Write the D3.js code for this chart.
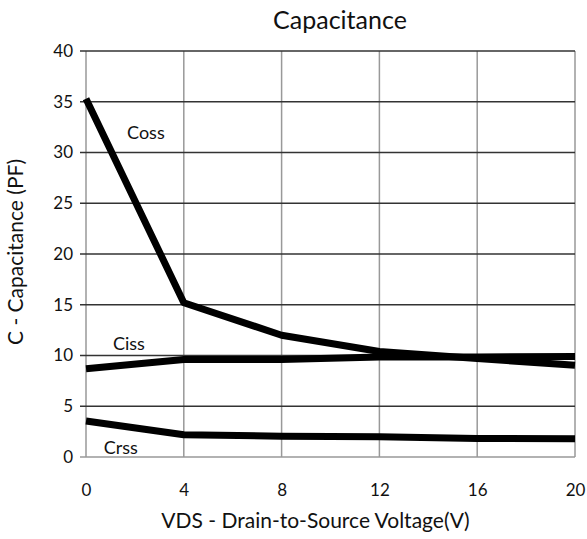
<!DOCTYPE html>
<html>
<head>
<meta charset="utf-8">
<script src="https://cdn.jsdelivr.net/npm/d3@7/dist/d3.min.js"></script>
<style>
	html, body { margin: 0; padding: 0; background: #fff; }
	#chart { width: 587px; height: 539px; }
	text { font-family: Lato, "Open Sans", sans-serif; fill: #111; }
</style>
</head>
<body>
<div id="chart"></div>
<script>
// values
const voltages = [0, 4, 8, 12, 16, 20];
const cossValues = [35.3, 15.2, 12.0, 10.4, 9.7, 9.05];
const cissValues = [8.7, 9.6, 9.6, 9.85, 9.85, 9.9];
const crssValues = [3.55, 2.2, 2.05, 2.0, 1.83, 1.8];

const xTicks = [0, 4, 8, 12, 16, 20];
const yTicks = [0, 5, 10, 15, 20, 25, 30, 35, 40];

function drawChart(container){
	const 	width = 587,
			height = 539,
			margin = {top: 51, right: 12, bottom: 82, left: 86},
			innerWidth = width - margin.left - margin.right,
			innerHeight = height - margin.top - margin.bottom;

	const svg = d3.select(container)
		.append('svg')
			.attr('width', width)
			.attr('height', height);

	const plot = svg.append('g')
		.attr('transform', `translate(${margin.left}, ${margin.top})`);

	const x = d3.scaleLinear()
		.domain([0, 20])
		.range([0, innerWidth]);

	const y = d3.scaleLinear()
		.domain([0, 40])
		.range([innerHeight, 0]);

	// vertical grid, light grey
	plot.append('g')
		.selectAll('line')
		.data(xTicks)
		.enter()
		.append('line')
			.attr('x1', d => x(d))
			.attr('x2', d => x(d))
			.attr('y1', 0)
			.attr('y2', innerHeight)
			.style('stroke', '#999')
			.style('stroke-width', 1.5);

	// horizontal grid is darker, and pokes out left as the tick
	plot.append('g')
		.selectAll('line')
		.data(yTicks.filter(d => d > 0))
		.enter()
		.append('line')
			.attr('x1', -6)
			.attr('x2', innerWidth)
			.attr('y1', d => y(d))
			.attr('y2', d => y(d))
			.style('stroke', '#333')
			.style('stroke-width', 1.6);

	// bottom axis line (grey like the verticals)
	plot.append('line')
		.attr('x1', -6)
		.attr('x2', innerWidth)
		.attr('y1', innerHeight)
		.attr('y2', innerHeight)
		.style('stroke', '#999')
		.style('stroke-width', 1.5);

	// Y tick labels
	const yAxis = d3.axisLeft(y)
		.tickValues(yTicks)
		.tickSize(0)
		.tickPadding(13);

	plot.append('g')
		.classed('y axis', true)
		.call(yAxis)
		.call(g => g.select('.domain').remove())
		.selectAll('text')
			.style('font-size', '17px');

	// X tick labels
	const xAxis = d3.axisBottom(x)
		.tickValues(xTicks)
		.tickSize(0)
		.tickPadding(27);

	plot.append('g')
		.classed('x axis', true)
		.attr('transform', `translate(0, ${innerHeight})`)
		.call(xAxis)
		.call(g => g.select('.domain').remove())
		.selectAll('text')
			.style('font-size', '17px');

	// the three curves
	const line = d3.line()
		.x((d, i) => x(voltages[i]))
		.y(d => y(d));

	[cissValues, crssValues, cossValues].forEach(series => {
		plot.append('path')
			.datum(series)
			.attr('d', line)
			.style('fill', 'none')
			.style('stroke', '#000')
			.style('stroke-width', 7)
			.style('stroke-linejoin', 'round');
	});

	// curve labels
	const curveLabels = [
		{name: 'Coss', vx: 1.68, vy: 31.3},
		{name: 'Ciss', vx: 1.1, vy: 10.5},
		{name: 'Crss', vx: 0.73, vy: 0.3}
	];

	plot.selectAll('.curve-label')
		.data(curveLabels)
		.enter()
		.append('text')
			.classed('curve-label', true)
			.attr('x', d => x(d.vx))
			.attr('y', d => y(d.vy))
			.style('font-size', '18px')
			.text(d => d.name);

	// titles
	svg.append('text')
		.attr('x', 340)
		.attr('y', 29)
		.attr('text-anchor', 'middle')
		.style('font-size', '25px')
		.text('Capacitance');

	svg.append('text')
		.attr('x', margin.left + innerWidth / 2 - 15)
		.attr('y', 528)
		.attr('text-anchor', 'middle')
		.style('font-size', '21px')
		.text('VDS - Drain-to-Source Voltage(V)');

	svg.append('text')
		.attr('transform', `translate(23, 252) rotate(-90)`)
		.attr('text-anchor', 'middle')
		.style('font-size', '21px')
		.text('C - Capacitance (PF)');
}

drawChart('#chart');
</script>
</body>
</html>
